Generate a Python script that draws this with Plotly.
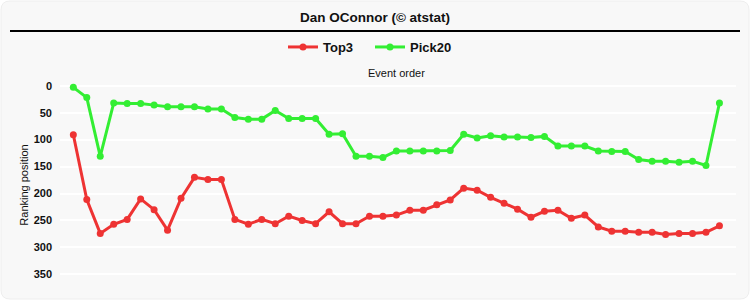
import plotly.graph_objects as go

events = list(range(1, 50))
top3 = [91, 211, 274, 257, 248, 210, 230, 268, 209, 170, 174, 174, 248, 257,
        248, 256, 242, 250, 256, 234, 256, 256, 242, 242, 240, 231, 231, 221,
        212, 190, 194, 207, 218, 229, 244, 233, 231, 246, 240, 262, 270, 270,
        272, 272, 276, 274, 274, 272, 260]
pick20 = [3, 22, 131, 32, 33, 33, 36, 39, 39, 39, 43, 43, 59, 62,
          62, 46, 61, 61, 61, 90, 89, 131, 131, 133, 121, 121, 121, 121,
          120, 90, 97, 93, 95, 95, 96, 94, 112, 112, 112, 121, 122, 122,
          137, 140, 140, 142, 140, 148, 32]
y_ticks = [0, 50, 100, 150, 200, 250, 300, 350]

W, H = 750, 300
ML, MR, MT, MB = 60, 14, 80, 10
PW, PH = W - ML - MR, H - MT - MB

def px(x):
    return (x - ML) / PW

def py(y):
    return (H - MB - y) / PH

SANS = "Liberation Sans, Arial, sans-serif"

fig = go.Figure()
fig.add_trace(go.Scatter(x=events, y=top3, name="Top3", mode="lines+markers",
                         line=dict(color="#ee3333", width=3),
                         marker=dict(color="#ee3333", size=7)))
fig.add_trace(go.Scatter(x=events, y=pick20, name="Pick20", mode="lines+markers",
                         line=dict(color="#33ee33", width=3),
                         marker=dict(color="#33ee33", size=7)))

fig.update_layout(
    width=W, height=H,
    margin=dict(l=ML, r=MR, t=MT, b=MB),
    paper_bgcolor="white",
    plot_bgcolor="rgba(0,0,0,0)",
    title=dict(text="Dan OConnor (© atstat)", x=0.5, xanchor="center",
               y=1 - 17 / H, yanchor="middle",
               font=dict(family=SANS, size=13.5, color="#111", weight="bold")),
    legend=dict(orientation="h", x=px(283), xanchor="left", y=py(47), yanchor="middle",
                font=dict(family=SANS, size=13, color="#111", weight="bold"),
                bgcolor="rgba(0,0,0,0)", itemwidth=30, entrywidth=42,
                entrywidthmode="pixels"),
    showlegend=True,
    xaxis=dict(range=[0.01, 50.23], showgrid=False, zeroline=False,
               showticklabels=False, showline=False, fixedrange=True),
    yaxis=dict(range=[379, -10.6], tickvals=y_ticks, showgrid=True,
               gridcolor="white", gridwidth=1.5, zeroline=False, showline=False,
               ticks="", ticklabelstandoff=7,
               tickfont=dict(family=SANS, size=11, color="#111", weight="bold"),
               title=dict(text="Ranking position", standoff=2,
                          font=dict(family=SANS, size=11, color="#111"))),
    shapes=[
        dict(type="path", xref="paper", yref="paper", layer="below",
             path=f"M {px(10)},{py(1)} L {px(740)},{py(1)} Q {px(749)},{py(1)} {px(749)},{py(10)} "
                  f"L {px(749)},{py(290)} Q {px(749)},{py(299)} {px(740)},{py(299)} "
                  f"L {px(10)},{py(299)} Q {px(1)},{py(299)} {px(1)},{py(290)} "
                  f"L {px(1)},{py(10)} Q {px(1)},{py(1)} {px(10)},{py(1)} Z",
             fillcolor="#f8f8f8", line=dict(color="#eeeeee", width=1)),
        dict(type="line", xref="paper", yref="paper", x0=px(10), x1=px(740),
             y0=py(31), y1=py(31), line=dict(color="black", width=2)),
    ],
    annotations=[
        dict(text="Event order", xref="paper", yref="paper", x=px(396), y=py(73),
             xanchor="center", yanchor="middle", showarrow=False,
             font=dict(family=SANS, size=11, color="#111")),
    ],
)

fig.write_html("out.html")
